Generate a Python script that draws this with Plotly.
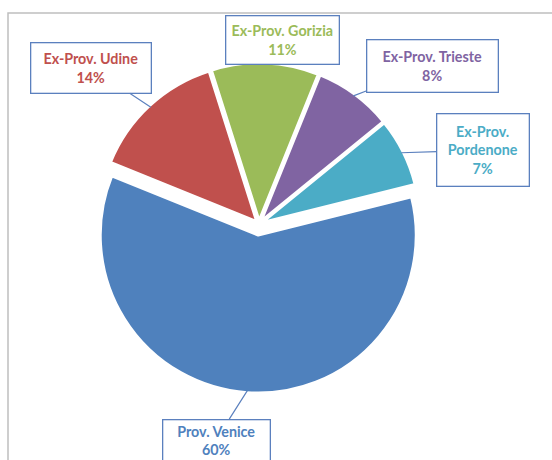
import math
import plotly.graph_objects as go

# Share of the total by province
provinces = ["Prov. Venice", "Ex-Prov. Udine", "Ex-Prov. Gorizia",
             "Ex-Prov. Trieste", "Ex-Prov. Pordenone"]
shares = [60, 14, 11, 8, 7]
slice_colors = ["#4F81BD", "#C0504D", "#9BBB59", "#8064A2", "#4BACC6"]
pulls = [0.07, 0.02, 0.02, 0.02, 0.02]

W, H = 552, 460
ROTATION = 76          # start angle of the first slice (clockwise from 12 o'clock)
PIE_CX, PIE_CY, PIE_R = 259, 224, 158   # pie centre / radius in pixels

# Callout boxes: centre x, centre y, width, height (pixels), line-wrapped label, leader line
callouts = [
    dict(cx=216, cy=440, w=108, h=42, wrap=False, leader=True),
    dict(cx=91, cy=68, w=121, h=51, wrap=False, leader=True),
    dict(cx=283, cy=40, w=114, h=49, wrap=False, leader=False),
    dict(cx=432, cy=66, w=132, h=53, wrap=False, leader=True),
    dict(cx=483, cy=150, w=93, h=73, wrap=True, leader=True),
]

max_pull = max(pulls)
box = 2 * PIE_R * (1 + max_pull)
dom_x = [(PIE_CX - box / 2) / W, (PIE_CX + box / 2) / W]
dom_y = [(H - PIE_CY - box / 2) / H, (H - PIE_CY + box / 2) / H]

fig = go.Figure(go.Pie(
    labels=provinces,
    values=shares,
    sort=False,
    direction="clockwise",
    rotation=ROTATION,
    pull=pulls,
    marker=dict(colors=slice_colors, line=dict(color="white", width=3)),
    textinfo="none",
    hoverinfo="label+percent",
    showlegend=False,
    domain=dict(x=dom_x, y=dom_y),
))

total = sum(shares)
annotations = []
start = ROTATION
for name, val, col, pull, co in zip(provinces, shares, slice_colors, pulls, callouts):
    sweep = 360 * val / total
    mid = math.radians(start + sweep / 2)
    start += sweep
    pct = f"{round(100 * val / total)}%"
    label = name.replace(" ", "<br>", 1) if co["wrap"] else name
    text = f"<b>{label}<br>{pct}</b>"
    common = dict(
        text=text,
        font=dict(family="Lato", size=14.3, color=col),
        bgcolor="white",
        bordercolor="#5B80BE",
        borderwidth=1.3,
        borderpad=1,
        width=co["w"] - 4,
        height=co["h"] - 4,
        align="center",
        valign="middle",
        xref="paper", yref="paper",
    )
    if co["leader"]:
        # leader line ends on the outer arc of the (pulled) slice
        rr = PIE_R * (1 + pull) - 2
        tx = PIE_CX + rr * math.sin(mid)
        ty = PIE_CY - rr * math.cos(mid)
        annotations.append(dict(
            x=tx / W, y=1 - ty / H,
            showarrow=True, arrowhead=0, arrowwidth=1.2, arrowcolor="#5B80BE",
            standoff=0, startstandoff=0,
            ax=co["cx"] - tx, ay=co["cy"] - ty,
            **common,
        ))
    else:
        annotations.append(dict(
            x=co["cx"] / W, y=1 - co["cy"] / H,
            xanchor="center", yanchor="middle", showarrow=False,
            **common,
        ))

fig.update_layout(
    width=W, height=H,
    margin=dict(l=0, r=0, t=0, b=0),
    paper_bgcolor="white",
    plot_bgcolor="white",
    annotations=annotations,
    shapes=[dict(type="rect", xref="paper", yref="paper",
                 x0=8 / W, x1=1.05, y0=-0.05, y1=1 - 13 / H,
                 line=dict(color="#BFBFBF", width=1.5), layer="below")],
)

fig.write_html("out.html")
